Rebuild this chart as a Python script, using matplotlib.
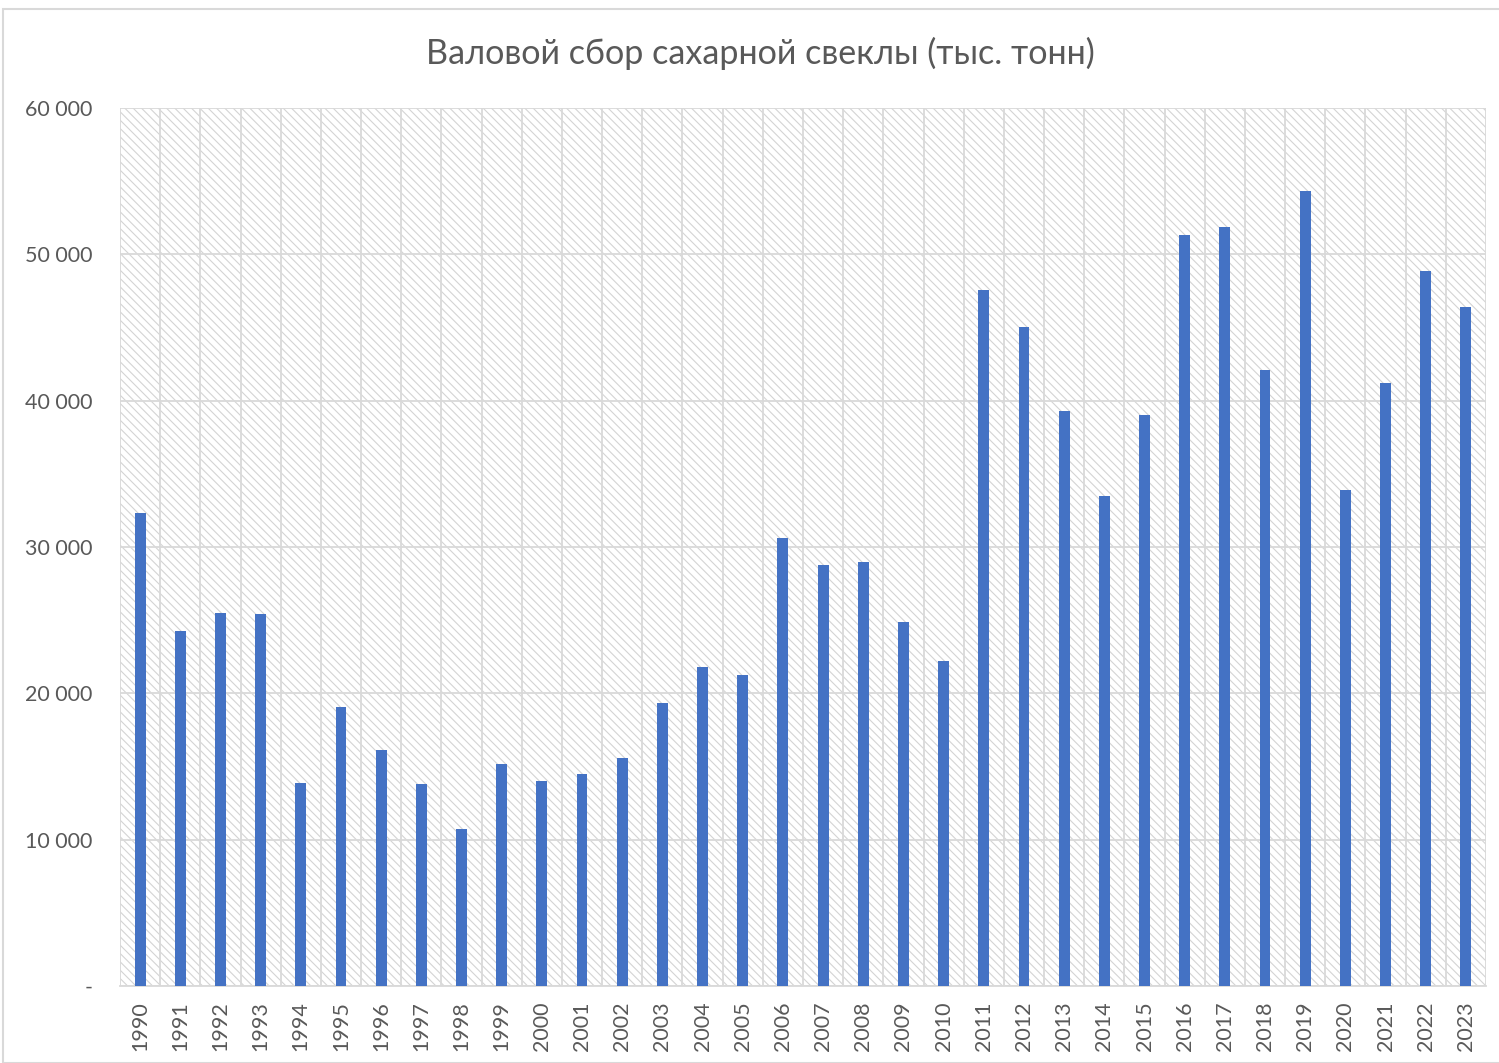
import matplotlib
matplotlib.use("Agg")
import matplotlib.pyplot as plt
from matplotlib.patches import Rectangle
from matplotlib.ticker import FuncFormatter, MultipleLocator

plt.rcParams['hatch.color'] = '#d4d4d4'
plt.rcParams['hatch.linewidth'] = 0.8

years = [str(y) for y in range(1990, 2024)]
values = [32320, 24260, 25490, 25420, 13870, 19070, 16130, 13800, 10730, 15170,
          14010, 14490, 15580, 19340, 21800, 21250, 30620, 28770, 28980, 24880,
          22210, 47560, 45030, 39290, 33490, 39020, 51320, 51870, 42100, 54330,
          33900, 41210, 48860, 46400]
title = "Валовой сбор сахарной свеклы (тыс. тонн)"

FONT = ['Lato', 'DejaVu Sans']
TXT = '#595959'
GRID = '#d9d9d9'

fig = plt.figure(figsize=(14.99, 10.63), dpi=100)
fig.patches.append(Rectangle((3/1499, 0), 1.2, 1 - 9/1063, transform=fig.transFigure,
                             fill=False, edgecolor=GRID, linewidth=1.5, zorder=0))

ax = fig.add_axes([120/1499, 1 - 986/1063, (1486 - 120)/1499, (986 - 108)/1063])
n = len(years)
x = list(range(n))

ax.set_xlim(-0.5, n - 0.5)
ax.set_ylim(0, 60000)

# hatched plot-area background
ax.add_patch(Rectangle((0, 0), 1, 1, transform=ax.transAxes, facecolor='white',
                       edgecolor='#d4d4d4', hatch='\\\\\\\\', linewidth=0, zorder=0))

ax.yaxis.set_major_locator(MultipleLocator(10000))
ax.grid(axis='y', color=GRID, linewidth=1.3, zorder=1)
for i in range(n + 1):
    ax.axvline(i - 0.5, color=GRID, linewidth=1.3, zorder=1)

ax.bar(x, values, width=0.27, color='#4472C4', zorder=3)

def fmt(v, pos):
    if v == 0:
        return '-'
    return f"{int(v):,}".replace(',', ' ')

ax.yaxis.set_major_formatter(FuncFormatter(fmt))
ax.set_xticks(x)
ax.set_xticklabels(years, rotation=90)
for lab in ax.get_xticklabels() + ax.get_yticklabels():
    lab.set_fontfamily(FONT)
    lab.set_fontsize(15.5)
    lab.set_color(TXT)
ax.tick_params(axis='both', length=0)
ax.tick_params(axis='y', pad=20)
ax.tick_params(axis='x', pad=11)
for s in ['top', 'right', 'left']:
    ax.spines[s].set_visible(False)
ax.spines['bottom'].set_color(GRID)
ax.spines['bottom'].set_linewidth(1.3)

fig.text(760/1499, 1 - 53/1063, title, ha='center', va='center',
         fontsize=24.6, color=TXT, family=FONT)

fig.savefig('out.png', dpi=100)
